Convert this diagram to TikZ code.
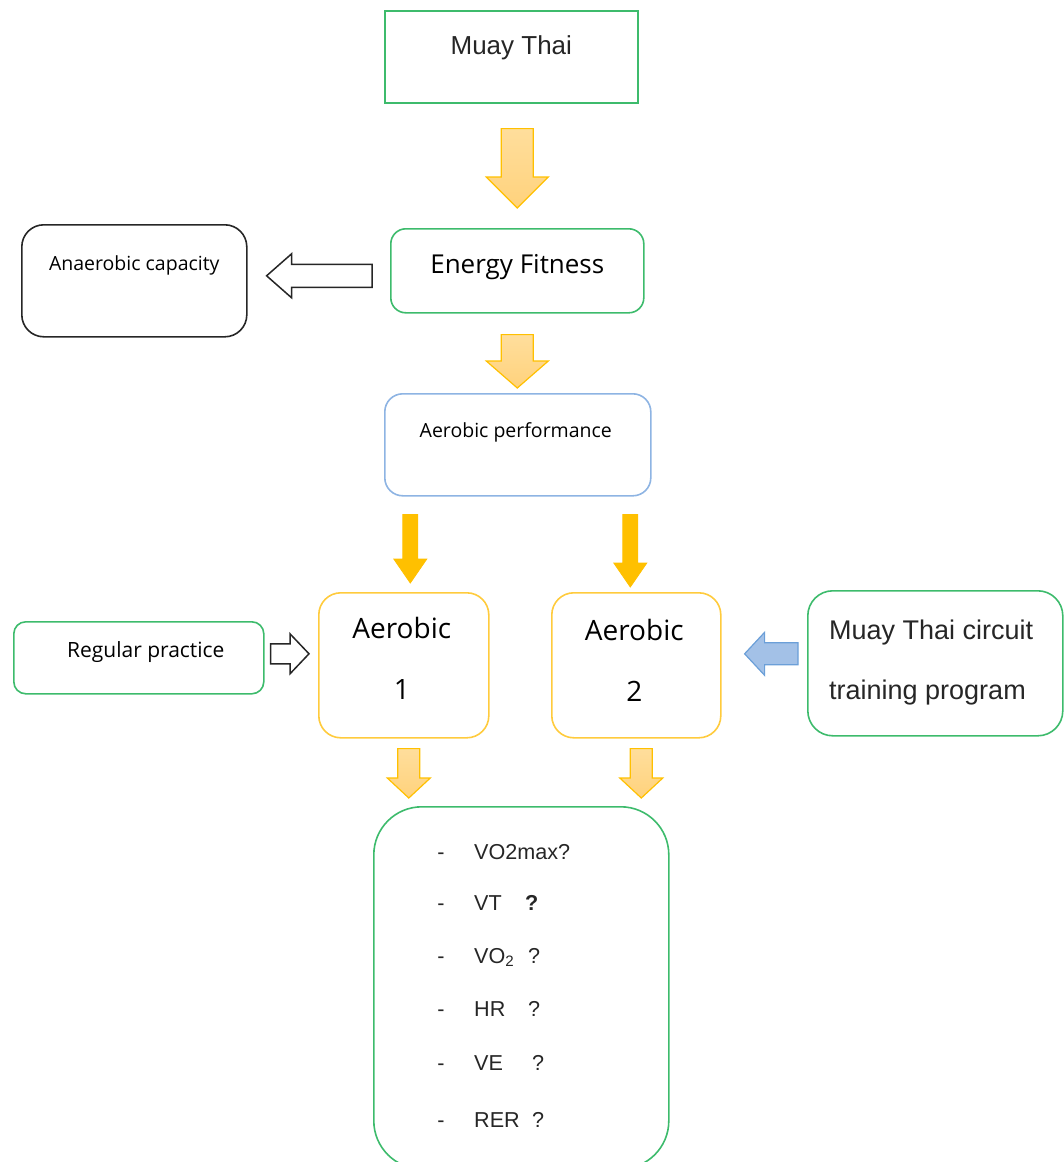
\documentclass[tikz,border=0pt]{standalone}
\usepackage{fontspec}
\setmainfont{Liberation Sans}
\newfontfamily\segoe{Open Sans}
\usetikzlibrary{calc}

\definecolor{boxgreen}{HTML}{3DBB6C}
\definecolor{boxblue}{HTML}{8EB4E3}
\definecolor{boxorange}{HTML}{FFCB3D}
\definecolor{arrorange}{HTML}{FFC000}
\definecolor{arrtop}{HTML}{FFDE9C}
\definecolor{arrbot}{HTML}{FFD27C}
\definecolor{arrblue}{HTML}{A3C1E7}
\definecolor{arrblueline}{HTML}{6B9FD8}
\definecolor{txtgray}{HTML}{262626}

% block arrow: [style]{tail}{tip}{shaft half width}{head half width}{head length}
\newcommand{\fatarrow}[6][]{%
  \draw[#1] let \p1=(#2), \p2=(#3),
      \n1={veclen(\x2-\x1,\y2-\y1)}, \n2={atan2(\y2-\y1,\x2-\x1)} in
    ([shift={(\p1)},rotate=\n2]0pt,-#4pt)
    -- ([shift={(\p1)},rotate=\n2]{\n1-#6pt},-#4pt)
    -- ([shift={(\p1)},rotate=\n2]{\n1-#6pt},-#5pt)
    -- ([shift={(\p1)},rotate=\n2]\n1,0pt)
    -- ([shift={(\p1)},rotate=\n2]{\n1-#6pt},#5pt)
    -- ([shift={(\p1)},rotate=\n2]{\n1-#6pt},#4pt)
    -- ([shift={(\p1)},rotate=\n2]0pt,#4pt) -- cycle;}

\begin{document}
\begin{tikzpicture}[x=1pt, y=-1pt,
    box/.style={line width=1.6pt, anchor=north west, inner sep=0pt},
    greenbox/.style={box, draw=boxgreen},
    bigtxt/.style={font=\fontsize{26}{30}\selectfont, text=txtgray},
    smalltxt/.style={font=\segoe\fontsize{19.5}{23}\selectfont},
    midtxt/.style={font=\segoe\fontsize{28}{61}\selectfont, align=center},
    listtxt/.style={font=\fontsize{21.6}{26}\selectfont, inner sep=0pt, text=txtgray},
    lightarrow/.style={draw=arrorange, line width=1.2pt, top color=arrtop, bottom color=arrbot},
    solidarrow/.style={draw=arrorange, fill=arrorange, line width=0.8pt},
    whitearrow/.style={draw=black!85, fill=white, line width=1.5pt},
    bluearrow/.style={draw=arrblueline, fill=arrblue, line width=1.2pt}]
  \clip (0,0) rectangle (1064,1162);

  % boxes
  \node[greenbox, minimum width=253, minimum height=92] (muay) at (384,10) {};
  \node[greenbox, rounded corners=15, minimum width=253, minimum height=84] (energy) at (390,228) {};
  \node[box, draw=black!85, rounded corners=22, minimum width=225, minimum height=112] (anaer) at (21,224) {};
  \node[box, draw=boxblue, rounded corners=18, minimum width=266, minimum height=102] (aperf) at (384,393) {};
  \node[box, draw=boxorange, rounded corners=22, minimum width=170, minimum height=145] (aero1) at (318,592) {};
  \node[box, draw=boxorange, rounded corners=22, minimum width=169, minimum height=145] (aero2) at (551,592) {};
  \node[greenbox, rounded corners=12, minimum width=250, minimum height=72] (regular) at (13,621) {};
  \node[greenbox, rounded corners=25, minimum width=255, minimum height=145] (circuit) at (807,590) {};
  \node[greenbox, rounded corners=48, minimum width=295, minimum height=362] (results) at (373,806) {};

  % texts
  \node[bigtxt] (muaytxt) at ($(muay.north)+(0,38)$) {Muay Thai};
  \node[font=\segoe\fontsize{26}{30}\selectfont] (energytxt) at ($(energy.north)+(0,39)$) {Energy Fitness};
  \node[smalltxt] (anaertxt) at ($(anaer.north)+(0,41)$) {Anaerobic capacity};
  \node[smalltxt] (aperftxt) at ($(aperf.north)+(-2,39)$) {Aerobic performance};
  \node[midtxt] (aero1txt) at ($(aero1.north)+(-2,66)$) {Aerobic\\1};
  \node[midtxt] (aero2txt) at ($(aero2.north)+(-2,68)$) {Aerobic\\2};
  \node[font=\segoe\fontsize{21}{25}\selectfont] (regtxt) at ($(regular.north)+(7,31)$) {Regular practice};
  \node[font=\fontsize{27}{60}\selectfont, align=left, anchor=west, inner sep=0pt, text=txtgray] (circuittxt)
    at ($(circuit.north west)+(22,73)$) {Muay Thai circuit\\training program};

  % list of measures
  \foreach \i/\yy/\lbl in {1/851/{VO2max?},
      2/902/{\makebox[51pt][l]{VT}\textbf{?}},
      3/955/{\makebox[54pt][l]{VO\textsubscript{2}}?},
      4/1008/{\makebox[54pt][l]{HR}?},
      5/1062/{\makebox[58pt][l]{VE}?},
      6/1119/{\makebox[58pt][l]{RER}?}} {
    \node[listtxt, anchor=base] (dash\i) at (441,\yy+8) {-};
    \node[listtxt, anchor=base west] (item\i) at (474,\yy+8) {\lbl};
  }

  % arrows
  \fatarrow[lightarrow]{$(muay.south -| energy.north)+(0,25)$}{$(energy.north)+(0,-20)$}{16}{31}{31}
  \fatarrow[lightarrow]{$(energy.south)+(0,21)$}{$(aperf.north -| energy.south)+(0,-5)$}{16}{31}{27}
  \fatarrow[whitearrow]{$(energy.west)+(-18,5)$}{$(anaer.east)+(19,-5)$}{11.5}{22}{25}
  \fatarrow[solidarrow]{$(aperf.south -| aero1.north)+(6.5,18)$}{$(aero1.north)+(6.5,-9)$}{7.5}{16.5}{24}
  \fatarrow[solidarrow]{$(aperf.south -| aero2.north)+(-6,18)$}{$(aero2.north)+(-6,-5)$}{7.5}{16.5}{24}
  \fatarrow[whitearrow]{$(regular.east)+(6,-4)$}{$(aero1.west)+(-9,-11.5)$}{10}{20}{19}
  \fatarrow[bluearrow]{$(circuit.west)+(-9,-9.5)$}{$(aero2.east)+(23,-11.5)$}{11}{21.5}{20}
  \fatarrow[lightarrow]{$(aero1.south)+(5,10)$}{$(results.north -| aero1.south)+(5,-8)$}{11}{21.5}{20}
  \fatarrow[lightarrow]{$(aero2.south)+(5,10)$}{$(results.north -| aero2.south)+(5,-8)$}{11}{21.5}{20}
\end{tikzpicture}
\end{document}
